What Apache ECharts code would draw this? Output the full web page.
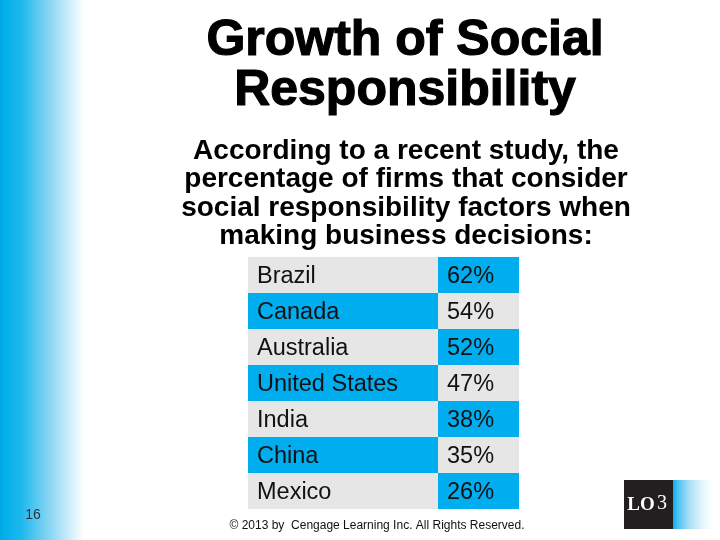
<!DOCTYPE html>
<html>
<head>
<meta charset="utf-8">
<script src="https://cdn.jsdelivr.net/npm/echarts@6/dist/echarts.min.js"></script>
<style>html,body{margin:0;padding:0;background:#fff}#c{width:720px;height:540px}</style>
</head>
<body>
<div id="c"></div>
<script>
var countries = ['Brazil', 'Canada', 'Australia', 'United States', 'India', 'China', 'Mexico'];
var percents = [62, 54, 52, 47, 38, 35, 26];
var titleLines = ['Growth of Social', 'Responsibility'];
var subtitleLines = ['According to a recent study, the', 'percentage of firms that consider', 'social responsibility factors when', 'making business decisions:'];
var footerText = '\u00a9 2013 by  Cengage Learning Inc. All Rights Reserved.';
var pageNumber = '16';

var BLUE = '#00aeef';
var GREY = '#e6e6e6';
var FONT = '"Liberation Sans", Arial, sans-serif';

var chart = echarts.init(document.getElementById('c'), null, {renderer: 'canvas'});

function cellRenderer(labels, startBlue) {
  return function (params, api) {
    var idx = api.value(0);
    var p0 = api.coord([0, idx]);
    var p1 = api.coord([1, idx]);
    var h = api.size([0, 1])[1];
    var blue = (idx % 2 === 0) ? startBlue : !startBlue;
    return {
      type: 'group',
      children: [
        {type: 'rect', shape: {x: p0[0], y: p0[1] - h / 2, width: p1[0] - p0[0], height: h}, style: {fill: blue ? BLUE : GREY}},
        {type: 'text', style: {x: p0[0] + 9, y: p0[1] + 1.5, text: labels[idx], font: '23.5px ' + FONT, fill: '#111', align: 'left', verticalAlign: 'middle'}}
      ]
    };
  };
}

var graphics = [];
graphics.push({
  type: 'rect', left: 0, top: 0, z: -1,
  shape: {width: 84, height: 540},
  style: {fill: new echarts.graphic.LinearGradient(0, 0, 1, 0, [
    {offset: 0, color: '#00a6df'},
    {offset: 0.04, color: '#00b0ea'},
    {offset: 0.25, color: '#1cb8ec'},
    {offset: 0.5, color: '#6ecdf1'},
    {offset: 0.75, color: '#b8e6f8'},
    {offset: 1, color: '#ffffff'}
  ])}
});
var titleY = [41, 91];
titleLines.forEach(function (t, i) {
  graphics.push({type: 'text', x: 405, y: titleY[i], style: {text: t, font: 'bold 50px ' + FONT, fill: '#000', stroke: '#000', lineWidth: 1.2, align: 'center', verticalAlign: 'middle'}});
});
var subY = [151, 179.5, 208, 236.5];
subtitleLines.forEach(function (t, i) {
  graphics.push({type: 'text', x: 406, y: subY[i], style: {text: t, font: 'bold 28px ' + FONT, fill: '#000', align: 'center', verticalAlign: 'middle'}});
});
graphics.push({type: 'text', x: 377, y: 526, style: {text: footerText, font: '12px ' + FONT, fill: '#111', align: 'center', verticalAlign: 'middle'}});
graphics.push({type: 'text', x: 33, y: 515, style: {text: pageNumber, font: '14px ' + FONT, fill: '#2a3340', align: 'center', verticalAlign: 'middle'}});
graphics.push({type: 'rect', left: 624, top: 480, shape: {width: 49, height: 49}, style: {fill: '#231f20'}});
graphics.push({type: 'rect', left: 673, top: 480, shape: {width: 40, height: 49}, style: {fill: new echarts.graphic.LinearGradient(0, 0, 1, 0, [
  {offset: 0, color: '#00aeef'}, {offset: 0.1, color: '#40c0f2'}, {offset: 0.4, color: '#a8def6'}, {offset: 0.75, color: '#e6f6fd'}, {offset: 1, color: '#ffffff'}
])}});
graphics.push({type: 'text', x: 641, y: 505, style: {text: 'LO', font: 'bold 19px "Liberation Serif", serif', fill: '#fff', align: 'center', verticalAlign: 'middle'}});
graphics.push({type: 'text', x: 662, y: 504, style: {text: '3', font: '20px "Liberation Serif", serif', fill: '#fff', align: 'center', verticalAlign: 'middle'}});

var idxData = countries.map(function (c, i) { return [i]; });
var pctLabels = percents.map(function (v) { return v + '%'; });

chart.setOption({
  animation: false,
  backgroundColor: '#ffffff',
  grid: [
    {left: 248, top: 257, width: 190, height: 252},
    {left: 438, top: 257, width: 81, height: 252}
  ],
  xAxis: [
    {gridIndex: 0, type: 'value', min: 0, max: 1, show: false},
    {gridIndex: 1, type: 'value', min: 0, max: 1, show: false}
  ],
  yAxis: [
    {gridIndex: 0, type: 'category', data: countries, inverse: true, show: false},
    {gridIndex: 1, type: 'category', data: countries, inverse: true, show: false}
  ],
  series: [
    {type: 'custom', xAxisIndex: 0, yAxisIndex: 0, data: idxData, encode: {y: 0}, renderItem: cellRenderer(countries, false)},
    {type: 'custom', xAxisIndex: 1, yAxisIndex: 1, data: idxData, encode: {y: 0}, renderItem: cellRenderer(pctLabels, true)}
  ],
  graphic: graphics
});
</script>
</body>
</html>
